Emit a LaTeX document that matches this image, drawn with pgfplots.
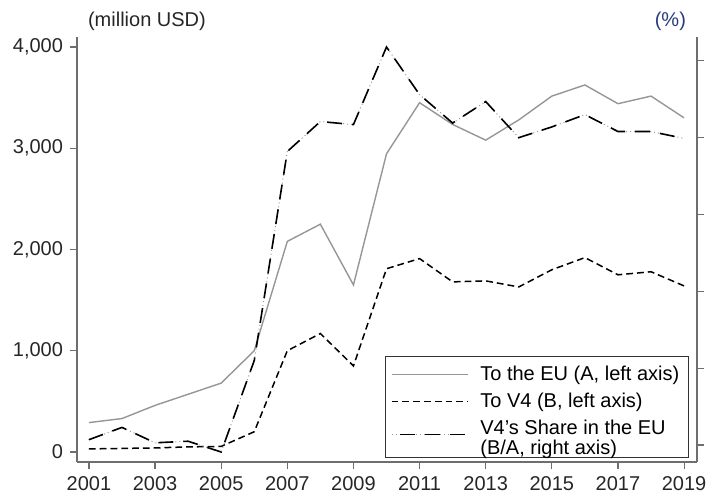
\documentclass[border=0pt]{standalone}
\usepackage{pgfplots}
\pgfplotsset{compat=1.18}
\usepackage{fontspec}
\setmainfont{Liberation Sans}
\definecolor{pctblue}{RGB}{40,60,125}
\definecolor{axgray}{RGB}{110,110,110}
\definecolor{eugray}{RGB}{150,150,150}

\pgfplotstableread{
year A B
2001 290 30
2002 330 35
2003 460 40
2004 570 50
2005 680 55
2006 1000 200
2007 2080 1000
2008 2250 1170
2009 1650 850
2010 2945 1810
2011 3450 1910
2012 3235 1680
2013 3080 1690
2014 3280 1630
2015 3515 1800
2016 3625 1920
2017 3440 1750
2018 3515 1780
2019 3300 1640
}\leftdata

\pgfplotstableread{
year S
2001 10.7
2002 12.3
2003 10.3
2004 10.5
2005 9.1
2006 21.0
2007 48.2
2008 52.1
2009 51.7
2010 61.8
2011 55.6
2012 51.9
2013 54.7
2014 50.0
2015 51.4
2016 53.0
2017 50.8
2018 50.8
2019 49.9
}\sharedata

\pgfplotsset{
  common/.style={
    width=310pt, height=212.5pt, scale only axis,
    xmin=2000.64, xmax=2019.39,
    tick align=outside, major tick length=3.5pt,
    every tick/.style={axgray, line width=0.6pt},
    axis line style={axgray, line width=0.8pt},
    tick label style={font=\fontsize{10}{12}\selectfont, text=black!85},
    /pgf/number format/assume math mode=true,
    /pgf/number format/1000 sep={,},
  }
}

\begin{document}
\begin{tikzpicture}
\begin{axis}[common, name=ax,
  ymin=-99, ymax=4099,
  axis x line*=bottom, axis y line*=left,
  xtick={2001,2003,...,2019},
  ytick={0,1000,2000,3000,4000},
  xticklabel style={/pgf/number format/1000 sep={}},
]
\addplot[eugray, line width=0.7pt] table[x=year,y=A] {\leftdata};
\addplot[black, line width=0.75pt, dash pattern=on 3.4pt off 2pt] table[x=year,y=B] {\leftdata};
\end{axis}
\begin{axis}[common,
  ymin=7.8, ymax=63.1,
  axis x line=none, axis y line*=right,
  ytick={10,20,30,40,50,60}, yticklabels={},
  legend cell align=left,
  legend style={at={(0.987,0.01)}, anchor=south east, draw=black!80, line width=0.6pt,
    font=\fontsize{10}{8.6}\selectfont, inner xsep=2.5pt, inner ysep=2.5pt,
    row sep=1pt, column sep=4pt},
  legend image code/.code={\draw[#1] (0pt,0pt) -- (38pt,0pt);},
]
\addlegendimage{eugray, line width=0.7pt}
\addlegendentry{To the EU (A, left axis)}
\addlegendimage{black, line width=0.75pt, dash pattern=on 3.4pt off 2pt}
\addlegendentry{To V4 (B, left axis)}
\addplot[black!40, line width=0.5pt, dash pattern=on 0.5pt off 1.5pt, forget plot] table[x=year,y=S] {\sharedata};
\addplot[black, line width=0.8pt, dash pattern=on 7.5pt off 5pt,
  legend image code/.code={
    \draw[black!40, line width=0.5pt, dash pattern=on 0.5pt off 1.5pt] (0pt,0pt) -- (38pt,0pt);
    \draw[black, line width=0.8pt, dash pattern=on 7.5pt off 5pt, dash phase=-4pt] (0pt,0pt) -- (38pt,0pt);}
] table[x=year,y=S] {\sharedata};
\addlegendentry{\begin{tabular}{@{}l@{}}V4's Share in the EU\\(B/A, right axis)\end{tabular}}
\end{axis}
\node[anchor=base west, font=\fontsize{10}{12}\selectfont, text=black!85] at ([xshift=2pt,yshift=5pt]ax.north west) {(million USD)};
\node[anchor=base east, font=\fontsize{10}{12}\selectfont, text=pctblue] at ([xshift=-2pt,yshift=5pt]ax.north east) {(\%)};
\pgfresetboundingbox
\useasboundingbox ([xshift=-38.5pt,yshift=-17pt]ax.south west) rectangle ([xshift=5pt,yshift=18.5pt]ax.north east);
\end{tikzpicture}
\end{document}
